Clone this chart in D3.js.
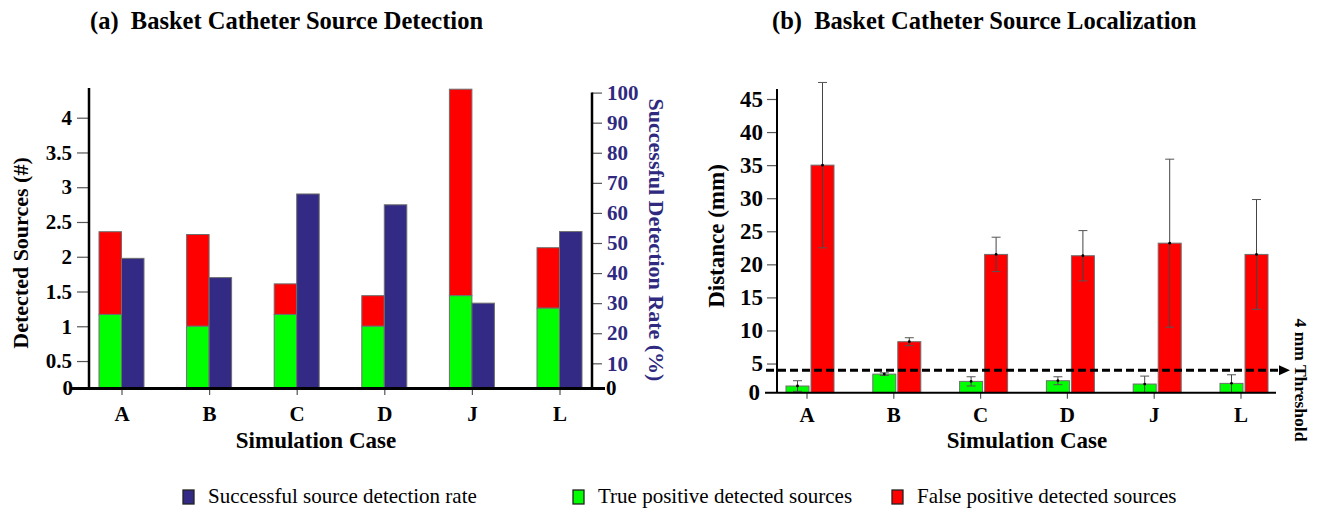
<!DOCTYPE html>
<html>
<head>
<meta charset="utf-8">
<script src="https://cdn.jsdelivr.net/npm/d3@7"></script>
<style>
  html, body { margin: 0; padding: 0; background: #fff; }
  svg { display: block; font-family: "Liberation Serif", "Times New Roman", serif; }
</style>
</head>
<body>
<svg id="chart" width="1321" height="508"></svg>
<script>
// ---- data ----
const cases = ["A", "B", "C", "D", "J", "L"];
// (a) detection: mean sources per case
const truePositive = [1.17, 1.0, 1.17, 1.0, 1.44, 1.26];
const falsePositive = [1.19, 1.32, 0.44, 0.44, 2.97, 0.87];
const detectionRate = [44.9, 38.5, 66.3, 62.7, 30.0, 53.8];
// (b) localization distance (mm), mean and spread
const tpDistance = [1.6, 3.4, 2.3, 2.4, 1.9, 2.0];
const tpDistanceErr = [0.8, 0.2, 0.7, 0.6, 1.2, 1.3];
const fpDistance = [35.0, 8.3, 21.5, 21.3, 23.2, 21.5];
const fpDistanceErr = [12.5, 0.6, 2.6, 3.8, 12.7, 8.3];
const thresholdMm = 4;

const sourceTicks = [0, 0.5, 1, 1.5, 2, 2.5, 3, 3.5, 4];
const rateTicks = [0, 10, 20, 30, 40, 50, 60, 70, 80, 90, 100];
const distanceTicks = [0, 5, 10, 15, 20, 25, 30, 35, 40, 45];

const legendItems = [
  { label: "Successful source detection rate", color: "#332a85" },
  { label: "True positive detected sources", color: "#00ff00" },
  { label: "False positive detected sources", color: "#ff0000" }
];

// ---- style ----
const GREEN = "#00ff00", RED = "#ff0000", NAVY = "#332a85", RATE_TXT = "#2f2a80";
const BAR_STROKE = "#6e6e6e";

const svg = d3.select("#chart");

function styleTicks(ax, size, color) {
  ax.selectAll(".tick line").attr("stroke", "#555").attr("stroke-width", 1.2);
  ax.selectAll(".tick text").attr("font-size", size).attr("font-weight", "bold")
    .attr("font-family", "Liberation Serif").attr("fill", color || "#000");
}

// =================== (a) Source detection ===================
const a = { left: 89, right: 592, base: 388, top: 88 };
const xA = d3.scaleBand().domain(cases).range([78.2, 603.8]);
const ySrc = d3.scaleLinear().domain([0, 4]).range([395.8, 117.7]);
const yRate = d3.scaleLinear().domain([0, 100]).range([393.4, 92.6]);
const bw = 22.5;

const gA = svg.append("g");

// stacked true / false positive bars next to the detection-rate bar
cases.forEach((c, i) => {
  const cx = xA(c) + xA.bandwidth() / 2;
  const tp = truePositive[i], total = truePositive[i] + falsePositive[i];
  gA.append("rect").attr("x", cx - bw - 0.5).attr("width", bw)
    .attr("y", ySrc(total)).attr("height", ySrc(tp) - ySrc(total))
    .attr("fill", RED).attr("stroke", BAR_STROKE).attr("stroke-width", 1);
  gA.append("rect").attr("x", cx - bw - 0.5).attr("width", bw)
    .attr("y", ySrc(tp)).attr("height", a.base - ySrc(tp))
    .attr("fill", GREEN).attr("stroke", BAR_STROKE).attr("stroke-width", 1);
  gA.append("rect").attr("x", cx - 0.5).attr("width", bw)
    .attr("y", yRate(detectionRate[i])).attr("height", a.base - yRate(detectionRate[i]))
    .attr("fill", NAVY).attr("stroke", BAR_STROKE).attr("stroke-width", 1);
});

// left axis
const axL = gA.append("g").attr("transform", `translate(${a.left},0)`)
  .call(d3.axisLeft(ySrc).tickValues(sourceTicks).tickSize(12).tickPadding(5).tickFormat(d3.format("")));
axL.select(".domain").remove();
axL.selectAll(".tick").filter(d => d === 0).attr("transform", `translate(0,${a.base})`).select("line").remove();
styleTicks(axL, 21);
axL.selectAll(".tick").filter(d => d === 0).select("text").attr("x", -16);

// right axis
const axR = gA.append("g").attr("transform", `translate(${a.right},0)`)
  .call(d3.axisRight(yRate).tickValues(rateTicks).tickSize(10).tickPadding(5));
axR.select(".domain").remove();
axR.selectAll(".tick").filter(d => d === 0).attr("transform", `translate(0,${a.base})`).select("line").remove();
styleTicks(axR, 21, RATE_TXT);
axR.selectAll(".tick").filter(d => d === 0).select("text").attr("x", 14).attr("fill", "#000");

// bottom axis ticks + labels
const axB = gA.append("g").attr("transform", `translate(0,${a.base})`)
  .call(d3.axisBottom(xA).tickSize(7).tickPadding(11));
axB.select(".domain").remove();
styleTicks(axB, 21);

// axis lines
gA.append("line").attr("x1", a.left).attr("x2", a.left).attr("y1", a.top).attr("y2", a.base)
  .attr("stroke", "#000").attr("stroke-width", 2.5);
gA.append("line").attr("x1", a.right).attr("x2", a.right).attr("y1", yRate(100)).attr("y2", a.base)
  .attr("stroke", "#000").attr("stroke-width", 2.5);
gA.append("line").attr("x1", 70).attr("x2", 605).attr("y1", a.base + 0.5).attr("y2", a.base + 0.5)
  .attr("stroke", "#000").attr("stroke-width", 3.2);

// titles
gA.append("text").attr("transform", `translate(28,253) rotate(-90)`).attr("text-anchor", "middle")
  .attr("font-size", 22).attr("font-weight", "bold").text("Detected Sources (#)");
gA.append("text").attr("transform", `translate(649,240) rotate(90)`).attr("text-anchor", "middle")
  .attr("font-size", 22).attr("font-weight", "bold").attr("fill", RATE_TXT).text("Successful Detection Rate (%)");
gA.append("text").attr("x", 316).attr("y", 448).attr("text-anchor", "middle")
  .attr("font-size", 23).attr("font-weight", "bold").text("Simulation Case");
gA.append("text").attr("x", 90).attr("y", 29)
  .attr("font-size", 24.5).attr("font-weight", "bold").attr("xml:space", "preserve")
  .text("(a)  Basket Catheter Source Detection");

// =================== (b) Source localization ===================
const b = { left: 777, right: 1276, base: 392.7, top: 89 };
const xB = d3.scaleBand().domain(cases).range([765.6, 1286.4]);
const yDist = d3.scaleLinear().domain([0, 45]).range([396.6, 99]);
const bw2 = 23;

const gB = svg.append("g");

function errorBar(g, cx, mean, err) {
  const top = yDist(mean + err), bot = Math.min(yDist(Math.max(mean - err, 0)), b.base);
  g.append("line").attr("x1", cx).attr("x2", cx).attr("y1", top).attr("y2", bot)
    .attr("stroke", "#444").attr("stroke-width", 1);
  g.append("line").attr("x1", cx - 4.5).attr("x2", cx + 4.5).attr("y1", top).attr("y2", top)
    .attr("stroke", "#555").attr("stroke-width", 1);
  if (yDist(mean - err) < b.base - 1)
    g.append("line").attr("x1", cx - 4.5).attr("x2", cx + 4.5).attr("y1", bot).attr("y2", bot)
      .attr("stroke", "#555").attr("stroke-width", 1);
  g.append("circle").attr("cx", cx).attr("cy", yDist(mean)).attr("r", 1.4).attr("fill", "#000");
}

cases.forEach((c, i) => {
  const cx = xB(c) + xB.bandwidth() / 2;
  gB.append("rect").attr("x", cx - bw2).attr("width", bw2)
    .attr("y", yDist(tpDistance[i])).attr("height", b.base - yDist(tpDistance[i]))
    .attr("fill", GREEN).attr("stroke", BAR_STROKE).attr("stroke-width", 1);
  gB.append("rect").attr("x", cx + 2).attr("width", bw2)
    .attr("y", yDist(fpDistance[i])).attr("height", b.base - yDist(fpDistance[i]))
    .attr("fill", RED).attr("stroke", BAR_STROKE).attr("stroke-width", 1);
  errorBar(gB, cx - bw2 / 2, tpDistance[i], tpDistanceErr[i]);
  errorBar(gB, cx + 2 + bw2 / 2, fpDistance[i], fpDistanceErr[i]);
});

const axD = gB.append("g").attr("transform", `translate(${b.left},0)`)
  .call(d3.axisLeft(yDist).tickValues(distanceTicks).tickSize(10).tickPadding(4));
axD.select(".domain").remove();
axD.selectAll(".tick").filter(d => d === 0).attr("transform", `translate(0,${b.base})`).select("line").remove();
styleTicks(axD, 23);
axD.selectAll(".tick").filter(d => d === 0).select("text").attr("x", -17);

const axB2 = gB.append("g").attr("transform", `translate(0,${b.base})`)
  .call(d3.axisBottom(xB).tickSize(6).tickPadding(8));
axB2.select(".domain").remove();
styleTicks(axB2, 21);
axB2.selectAll(".tick").attr("transform", d => `translate(${xB(d) + xB.bandwidth() / 2 - 2},0)`);

gB.append("line").attr("x1", b.left).attr("x2", b.left).attr("y1", b.top).attr("y2", b.base)
  .attr("stroke", "#000").attr("stroke-width", 2);
gB.append("line").attr("x1", 765).attr("x2", b.right).attr("y1", b.base).attr("y2", b.base)
  .attr("stroke", "#000").attr("stroke-width", 2);

// threshold line with arrow
const yT = yDist(thresholdMm);
gB.append("line").attr("x1", 766).attr("x2", 1280).attr("y1", yT).attr("y2", yT)
  .attr("stroke", "#000").attr("stroke-width", 3).attr("stroke-dasharray", "8,4");
gB.append("path").attr("d", `M1279,${yT - 5}L1290,${yT}L1279,${yT + 5}Z`).attr("fill", "#000");
gB.append("text").attr("transform", `translate(1295,380) rotate(90)`).attr("text-anchor", "middle")
  .attr("font-size", 17.5).attr("font-weight", "bold").text("4 mm Threshold");

gB.append("text").attr("transform", `translate(724,236) rotate(-90)`).attr("text-anchor", "middle")
  .attr("font-size", 23).attr("font-weight", "bold").text("Distance (mm)");
gB.append("text").attr("x", 1027).attr("y", 448).attr("text-anchor", "middle")
  .attr("font-size", 23).attr("font-weight", "bold").text("Simulation Case");
gB.append("text").attr("x", 772).attr("y", 29)
  .attr("font-size", 24.5).attr("font-weight", "bold").attr("xml:space", "preserve")
  .text("(b)  Basket Catheter Source Localization");

// =================== legend ===================
const legendX = [183, 573, 892];
const lg = svg.append("g");
legendItems.forEach((it, i) => {
  lg.append("rect").attr("x", legendX[i]).attr("y", 490).attr("width", 11).attr("height", 14)
    .attr("fill", it.color).attr("stroke", "#222").attr("stroke-width", 1.3);
  lg.append("text").attr("x", legendX[i] + 25).attr("y", 503)
    .attr("font-size", 21).text(it.label);
});
</script>
</body>
</html>
